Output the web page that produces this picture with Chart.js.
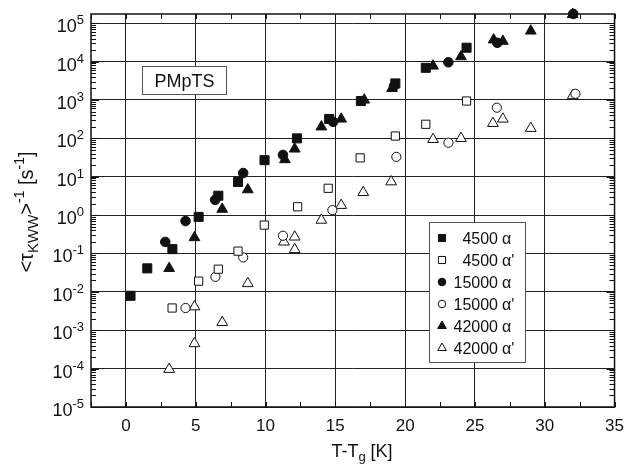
<!DOCTYPE html>
<html>
<head>
<meta charset="utf-8">
<script src="https://cdn.jsdelivr.net/npm/chart.js@4.4.0/dist/chart.umd.min.js"></script>
<style>
  html, body { margin: 0; padding: 0; background: #fff; }
</style>
</head>
<body>
<canvas id="c" width="633" height="464"></canvas>
<script>
// ---- data (T-Tg in K, <tau_KWW>^-1 in 1/s) ----
const xTicks = [0, 5, 10, 15, 20, 25, 30, 35];
const yDecades = [-5, -4, -3, -2, -1, 0, 1, 2, 3, 4, 5];

const x4500a  = [0.33, 1.53, 3.33, 5.21, 6.62, 8.03, 9.93, 12.25, 14.56, 16.83, 19.3, 21.48, 24.4];
const y4500a  = [0.0079, 0.041, 0.13, 0.9, 3.2, 7.3, 27, 100, 320, 940, 2700, 6900, 23000];

const x4500b  = [3.31, 5.21, 6.62, 8.03, 9.91, 12.3, 14.49, 16.78, 19.3, 21.48, 24.4];
const y4500b  = [0.0038, 0.019, 0.039, 0.115, 0.55, 1.65, 5.0, 31, 115, 233, 940];

const x15000a = [2.82, 4.27, 6.39, 8.4, 11.25, 14.84, 19.2, 23.1, 26.6, 32.04];
const y15000a = [0.2, 0.7, 2.5, 12.5, 37, 270, 2300, 9600, 31000, 175000];

const x15000b = [4.27, 6.41, 8.4, 11.25, 14.79, 19.37, 23.1, 26.57, 32.2];
const y15000b = [0.0038, 0.0246, 0.079, 0.29, 1.35, 33, 77, 630, 1450];

const x42000a = [3.1, 4.91, 6.9, 8.73, 11.39, 12.09, 14.0, 15.42, 17.07, 19.06, 22.0, 24.0, 26.34, 27.0, 29.0, 32.0];
const y42000a = [0.041, 0.26, 1.43, 4.6, 28, 53, 200, 320, 1000, 2000, 7700, 13500, 37000, 34000, 63000, 170000];

const x42000b = [3.1, 4.91, 4.91, 6.9, 8.73, 11.32, 12.09, 12.09, 14.0, 15.42, 17.0, 19.0, 22.0, 24.0, 26.29, 27.0, 29.0, 32.0];
const y42000b = [0.000096, 0.00045, 0.0041, 0.0016, 0.0165, 0.2, 0.27, 0.127, 0.74, 1.8, 3.9, 7.4, 94, 100, 246, 320, 183, 1300];

const FONT = '"Liberation Sans", Arial, sans-serif';
const INK = '#111';

function pts(xs, ys) { return xs.map((x, i) => ({ x: x, y: ys[i] })); }

function series(label, xs, ys, style, filled, r) {
    return {
        label: label,
        data: pts(xs, ys),
        pointStyle: style,
        pointRadius: r,
        pointBackgroundColor: filled ? INK : '#fff',
        pointBorderColor: INK,
        pointBorderWidth: 1,
        showLine: false,
        clip: false
    };
}

const datasets = [
    series('4500 α', x4500a, y4500a, 'rect', true, 6.4),
    series("4500 α'", x4500b, y4500b, 'rect', false, 5.8),
    series('15000 α', x15000a, y15000a, 'circle', true, 4.8),
    series("15000 α'", x15000b, y15000b, 'circle', false, 4.6),
    series('42000 α', x42000a, y42000a, 'triangle', true, 6.2),
    series("42000 α'", x42000b, y42000b, 'triangle', false, 6.2)
];

// text with sub/superscripts, left-aligned on a baseline
function richWidth(ctx, parts) {
    let w = 0;
    parts.forEach(p => { ctx.font = p.size + 'px ' + FONT; w += ctx.measureText(p.t).width; });
    return w;
}
function drawRich(ctx, parts, x, y) {
    let cx = x;
    parts.forEach(p => {
        ctx.font = p.size + 'px ' + FONT;
        ctx.fillText(p.t, cx, y + (p.dy || 0));
        cx += ctx.measureText(p.t).width;
    });
}

const deco = {
    id: 'deco',
    beforeDatasetsDraw(chart) {
        const ctx = chart.ctx;
        const a = chart.chartArea;
        const xs = chart.scales.x, ys = chart.scales.y;
        ctx.save();
        ctx.strokeStyle = INK;
        ctx.fillStyle = INK;

        // minor ticks, drawn inside the frame
        ctx.lineWidth = 1;
        ctx.beginPath();
        yDecades.forEach(e => {
            for (let k = 1; k <= 9; k++) {
                const v = k * Math.pow(10, e);
                if (v > ys.max) break;
                const py = Math.round(ys.getPixelForValue(v)) + 0.5;
                const len = k === 1 ? 8 : 5;
                ctx.moveTo(a.left, py); ctx.lineTo(a.left + len, py);
                ctx.moveTo(a.right, py); ctx.lineTo(a.right - len, py);
            }
        });
        for (let v = xs.min; v <= xs.max; v += 2.5) {
            const px = Math.round(xs.getPixelForValue(v)) + 0.5;
            ctx.moveTo(px, a.top); ctx.lineTo(px, a.top + 5);
            ctx.moveTo(px, a.bottom); ctx.lineTo(px, a.bottom - 5);
        }
        ctx.stroke();

        // frame
        ctx.lineWidth = 1.5;
        ctx.strokeRect(a.left, a.top, a.right - a.left, a.bottom - a.top);

        // y tick labels 10^n
        ctx.textAlign = 'left';
        ctx.textBaseline = 'alphabetic';
        yDecades.forEach(e => {
            const py = ys.getPixelForValue(Math.pow(10, e));
            const parts = [{ t: '10', size: 18 }, { t: String(e), size: 13, dy: -8 }];
            const w = richWidth(ctx, parts);
            drawRich(ctx, parts, 84 - w, py + 9);
        });

        // y axis title
        ctx.save();
        ctx.translate(33, 212);
        ctx.rotate(-Math.PI / 2);
        const yt = [
            { t: '<τ', size: 20 }, { t: 'KWW', size: 15, dy: 5 }, { t: '>', size: 20 },
            { t: '-1', size: 14, dy: -9 }, { t: ' [s', size: 20 }, { t: '-1', size: 14, dy: -9 },
            { t: ']', size: 20 }
        ];
        const yw = richWidth(ctx, yt);
        drawRich(ctx, yt, -yw / 2, 0);
        ctx.restore();

        // x axis title
        const xt = [{ t: 'T-T', size: 18 }, { t: 'g', size: 13, dy: 4 }, { t: ' [K]', size: 18 }];
        const xw = richWidth(ctx, xt);
        drawRich(ctx, xt, 362 - xw / 2, 457);

        // sample label box
        ctx.fillStyle = '#fff';
        ctx.fillRect(142, 66, 85, 28);
        ctx.strokeStyle = '#555';
        ctx.lineWidth = 1;
        ctx.strokeRect(142.5, 66.5, 84, 28);
        ctx.fillStyle = INK;
        ctx.font = '18px ' + FONT;
        ctx.textAlign = 'center';
        ctx.fillText('PMpTS', 184.5, 87);

        // legend box
        ctx.fillStyle = '#fff';
        ctx.fillRect(429, 222, 97, 141);
        ctx.strokeStyle = '#555';
        ctx.strokeRect(429.5, 222.5, 96, 140);
        chart.data.datasets.forEach((ds, i) => {
            const cy = 238 + i * 22;
            ctx.fillStyle = ds.pointBackgroundColor;
            ctx.strokeStyle = INK;
            ctx.lineWidth = 1;
            Chart.helpers.drawPoint(ctx, {
                pointStyle: ds.pointStyle,
                radius: ds.pointStyle === 'circle' ? 3.8 : 5,
                borderWidth: 1, rotation: 0
            }, 442, cy);
            const sp = ds.label.split(' ');
            ctx.fillStyle = INK;
            ctx.font = '16px ' + FONT;
            ctx.textAlign = 'right';
            ctx.fillText(sp[0], 498, cy + 6);
            ctx.textAlign = 'left';
            ctx.fillText(sp[1], 502, cy + 6);
        });
        ctx.restore();
    }
};

new Chart(document.getElementById('c'), {
    type: 'scatter',
    data: { datasets: datasets },
    plugins: [deco],
    options: {
        responsive: false,
        animation: false,
        devicePixelRatio: 1,
        layout: { padding: { top: 14, right: 10, left: 0, bottom: 0 }, autoPadding: false },
        plugins: { legend: { display: false }, tooltip: { enabled: false } },
        scales: {
            x: {
                type: 'linear',
                min: -2.5,
                max: 35,
                afterBuildTicks: s => { s.ticks = xTicks.map(v => ({ value: v })); },
                afterFit: s => { s.height = 57; },
                grid: { color: '#222', lineWidth: 1, drawTicks: false },
                border: { display: false },
                ticks: {
                    font: { family: FONT, size: 17 },
                    color: INK,
                    padding: 9,
                    maxRotation: 0,
                    autoSkip: false
                }
            },
            y: {
                type: 'logarithmic',
                min: 1e-5,
                max: 1.74e5,
                afterBuildTicks: s => { s.ticks = yDecades.map(e => ({ value: Math.pow(10, e) })); },
                afterFit: s => { s.width = 91; },
                grid: { color: '#222', lineWidth: 1, drawTicks: false },
                border: { display: false },
                ticks: { display: false }
            }
        }
    }
});
</script>
</body>
</html>
